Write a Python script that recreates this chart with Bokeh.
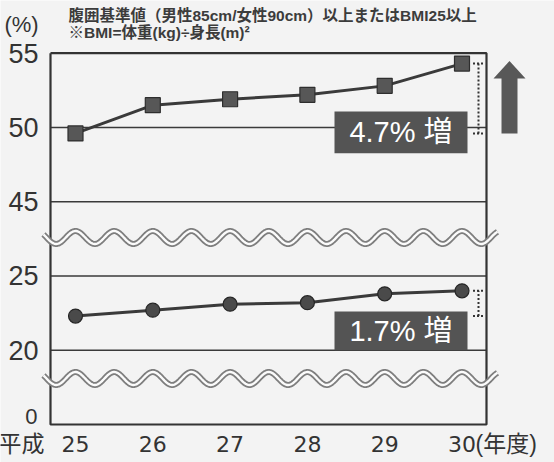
import numpy as np
from bokeh.plotting import figure
from bokeh.models import Range1d
from bokeh.core.properties import value
from bokeh.embed import file_html
from bokeh.resources import INLINE

# ---- data -------------------------------------------------------------
years = [25, 26, 27, 28, 29, 30]                      # 平成 fiscal years
year_labels = ["25", "26", "27", "28", "29", "30"]
upper_rate = [49.6, 51.5, 51.9, 52.2, 52.8, 54.3]     # % (squares)
lower_rate = [22.3, 22.7, 23.1, 23.2, 23.8, 24.0]     # % (circles)
y_tick_values = [55, 50, 45, 25, 20]
y_zero_label = "0"
note_lines = ["腹囲基準値（男性85cm/女性90cm）以上またはBMI25以上",
              "※BMI=体重(kg)÷身長(m)²"]

# ---- styling ----------------------------------------------------------
PAPER = "#f3f3f3"
INK = "#333333"
DARK = "#3a3a3a"
BOX = "#545454"
LATIN = "Liberation Sans"
JP = "Liberation Sans, Noto Sans CJK JP"

W, H = 554, 462
X0_PX, PX_PER_YEAR = 75.0, 77.3          # pixel of the first year, spacing
Y0_PX, PX_PER_BAND = 424.0, 74.26        # pixel of the zero line, band height


def brk(v):
    """Broken value axis: 0 | 20-25 | 45-55, each 5 % step is one band."""
    if v >= 45:
        return v / 5 - 6
    if v >= 20:
        return v / 5 - 3
    return v / 20


def X(px):
    return years[0] + (px - X0_PX) / PX_PER_YEAR


def Y(py):
    return (Y0_PX - py) / PX_PER_BAND


# the data frame spans the whole page so that labels around the box can be
# drawn in the same coordinates
p = figure(width=W, height=H,
           x_range=Range1d(X(0), X(W)), y_range=Range1d(Y(H), Y(0)),
           output_backend="svg", toolbar_location=None,
           min_border=0, background_fill_color=PAPER,
           border_fill_color=PAPER, outline_line_color=None)
p.grid.visible = False
p.axis.visible = False


def txt(xs, ys, texts, size, align="left", font=JP, style="normal", color=INK):
    p.text(x=xs, y=ys, text=texts, text_align=align, text_baseline="middle",
           text_font=value(font), text_font_size=size,
           text_font_style=style, text_color=color)


# ---- tick labels --------------------------------------------------------
y_ticks = [brk(v) for v in y_tick_values]
txt([X(38)] * len(y_ticks), y_ticks, [str(v) for v in y_tick_values],
    "27px", align="right", font=LATIN)
txt([X(37)], [Y(416)], [y_zero_label], "22px", align="right", font=LATIN)
txt(years, [Y(443)] * len(years), year_labels, "22px", align="center",
    font="DejaVu Sans")
txt([X(44)], [Y(443)], ["平成"], "23px", align="right")
txt([X(475)], [Y(443)], ["(年度)"], "23px")
txt([X(21)], [Y(23.5)], ["(%)"], "22px", align="center", font=LATIN)
txt([X(68)], [Y(15)], [note_lines[0]], "15.5px", style="bold", color="#3c3c3c")
txt([X(68)], [Y(32)], [note_lines[1]], "15.5px", style="bold", color="#3c3c3c")

# ---- plot box and horizontal rules -----------------------------------
box_l, box_r = X(50), X(486)
rules = [brk(v) for v in y_tick_values[1:]]
p.segment(x0=[box_l] * len(rules), x1=[box_r] * len(rules), y0=rules, y1=rules,
          line_color=DARK, line_width=1.4)
p.line([box_l, box_r, box_r, box_l, box_l], [brk(55), brk(55), 0, 0, brk(55)],
       line_color=INK, line_width=2.2)

# ---- wavy break marks ---------------------------------------------------
wx = np.linspace(X(43), X(497), 500)
amp = 6.5 / PX_PER_BAND
for centre in (Y(237), Y(378)):
    wy = centre + amp * np.cos(2 * np.pi * (wx - years[0]) / 0.5)
    p.line(wx, wy, line_color="#7e7e7e", line_width=6)
    p.line(wx, wy, line_color="#fbfbfb", line_width=2.4)

# ---- series -----------------------------------------------------------
up = [brk(v) for v in upper_rate]
lo = [brk(v) for v in lower_rate]
p.line(years, up, line_color=DARK, line_width=3)
p.scatter(years, up, marker="square", size=15, fill_color="#575757",
          line_color="#2e2e2e", line_width=1.2)
p.line(years, lo, line_color=DARK, line_width=3)
p.scatter(years, lo, marker="circle", size=14, fill_color="#4a4a4a",
          line_color="#262626", line_width=1.2)

# ---- dotted difference brackets ----------------------------------------
dx = X(478)
cap = 5.5 / PX_PER_YEAR
for series in (up, lo):
    a, b = series[0], series[-1]
    p.segment(x0=[dx], x1=[dx], y0=[a], y1=[b], line_color=INK,
              line_width=2, line_dash="2 2")
    p.segment(x0=[dx - cap, dx - cap], x1=[dx + cap, dx + cap], y0=[a, b],
              y1=[a, b], line_color=INK, line_width=2, line_dash="2 2")

# ---- increase boxes ----------------------------------------------------
lab_l, lab_r = X(334), X(467)
boxes = [
    (Y(111), Y(152.7), upper_rate),
    (Y(311), brk(20), lower_rate),
]
for top, bottom, series in boxes:
    p.quad(left=[lab_l], right=[lab_r], top=[top], bottom=[bottom],
           fill_color=BOX, line_color=None)
    txt([(lab_l + lab_r) / 2], [(top + bottom) / 2],
        [f"{series[-1] - series[0]:.1f}% 増"], "29px", align="center",
        color="white")

# ---- upward arrow ---------------------------------------------------------
ax = X(509)
shaft = 8 / PX_PER_YEAR
head = 16 / PX_PER_YEAR
tip = up[-1] + 2.5 / PX_PER_BAND
neck = tip - 17.5 / PX_PER_BAND
base = up[0]
p.patch([ax - shaft, ax - shaft, ax - head, ax, ax + head, ax + shaft, ax + shaft],
        [base, neck, neck, tip, neck, neck, base],
        fill_color="#585858", line_color=None)

open("out.html", "w").write(file_html(p, INLINE))
